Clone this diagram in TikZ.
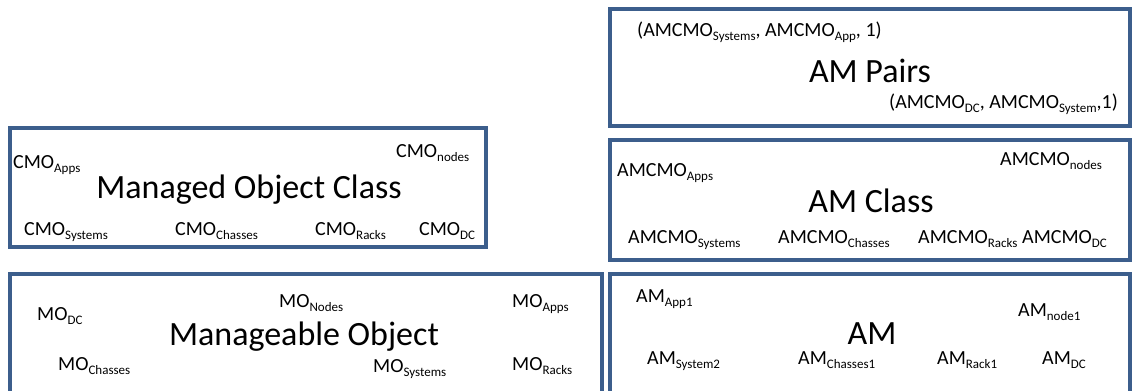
\documentclass[tikz,border=0pt]{standalone}
\usepackage{fontspec}
\setmainfont{Carlito}
\definecolor{boxblue}{HTML}{3C5E8C}
% lowered, smaller index text
\newcommand{\lo}[1]{\raisebox{-4.5pt}{\fontsize{13}{13}\selectfont #1}}

\begin{document}
\begin{tikzpicture}[x=1pt,y=-1pt,
  box/.style={draw=boxblue,line width=4.5pt,inner sep=0pt},
  lbl/.style={anchor=base west,inner sep=0pt,font=\fontsize{20}{24}\selectfont},
  ttl/.style={anchor=base,inner sep=0pt,font=\fontsize{34}{40}\selectfont}]
\useasboundingbox (0,0) rectangle (1133,391);

% boxes
\node[box,minimum width=476pt,minimum height=119pt] (moc) at (248,187.5) {};
\node[box,minimum width=592pt,minimum height=120pt] (mo) at (306,334) {};
\node[box,minimum width=520pt,minimum height=117pt] (amp) at (870,67.5) {};
\node[box,minimum width=520pt,minimum height=120pt] (amc) at (870,200) {};
\node[box,minimum width=520pt,minimum height=120pt] (am) at (870,334) {};

% Managed Object Class
\node[ttl] (mocT) at (249,198) {Managed Object Class};
\node[lbl] (cmoApps) at (13,168) {CMO\lo{Apps}};
\node[lbl] (cmoNodes) at (396,157) {CMO\lo{nodes}};
\node[lbl] (cmoSys) at (24,235) {CMO\lo{Systems}};
\node[lbl] (cmoCh) at (175,235) {CMO\lo{Chasses}};
\node[lbl] (cmoRk) at (315,235) {CMO\lo{Racks}};
\node[lbl] (cmoDC) at (419,235) {CMO\lo{DC}};

% Manageable Object
\node[ttl] (moT) at (304,345) {Manageable Object};
\node[lbl] (moDC) at (37,320) {MO\lo{DC}};
\node[lbl] (moNodes) at (279,307) {MO\lo{Nodes}};
\node[lbl] (moApps) at (512,307) {MO\lo{Apps}};
\node[lbl] (moCh) at (58,370) {MO\lo{Chasses}};
\node[lbl] (moSys) at (373,372) {MO\lo{Systems}};
\node[lbl] (moRk) at (512,370) {MO\lo{Racks}};

% AM Pairs
\node[ttl] (ampT) at (870,82) {AM Pairs};
\node[lbl] (pair1) at (637,36) {(AMCMO\lo{Systems}, AMCMO\lo{App}, 1)};
\node[lbl] (pair2) at (889,108) {(AMCMO\lo{DC}, AMCMO\lo{System},1)};

% AM Class
\node[ttl] (amcT) at (871,212) {AM Class};
\node[lbl] (amcApps) at (617,176) {AMCMO\lo{Apps}};
\node[lbl] (amcNodes) at (1000,165) {AMCMO\lo{nodes}};
\node[lbl] (amcSys) at (628,243) {AMCMO\lo{Systems}};
\node[lbl] (amcCh) at (778,243) {AMCMO\lo{Chasses}};
\node[lbl] (amcRk) at (918,243) {AMCMO\lo{Racks}};
\node[lbl] (amcDC) at (1022,243) {AMCMO\lo{DC}};

% AM
\node[ttl] (amT) at (872,344) {AM};
\node[lbl] (amApp) at (636,302) {AM\lo{App1}};
\node[lbl] (amNode) at (1018,316) {AM\lo{node1}};
\node[lbl] (amSys) at (647,364) {AM\lo{System2}};
\node[lbl] (amCh) at (798,364) {AM\lo{Chasses1}};
\node[lbl] (amRk) at (937,364) {AM\lo{Rack1}};
\node[lbl] (amDC) at (1042,364) {AM\lo{DC}};
\end{tikzpicture}
\end{document}
